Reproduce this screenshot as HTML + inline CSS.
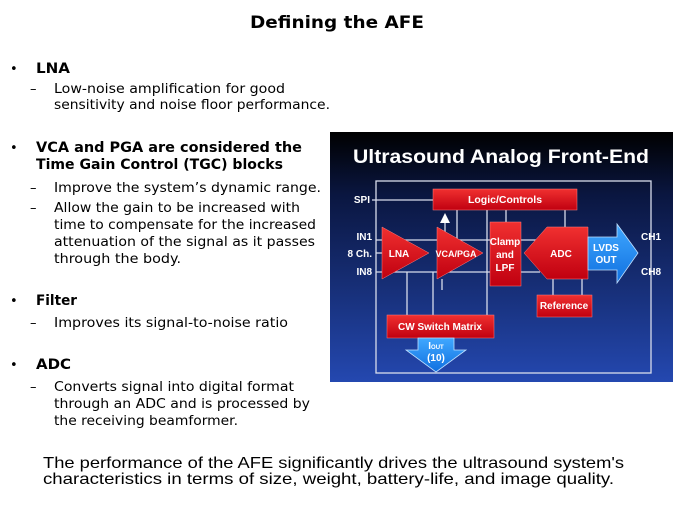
<!DOCTYPE html>
<html><head><meta charset="utf-8"><style>html,body{margin:0;padding:0;background:#fff}svg{display:block}</style></head><body>
<svg width="674" height="506" viewBox="0 0 674 506" xmlns="http://www.w3.org/2000/svg">
<defs>
<linearGradient id="bg" x1="0" y1="0" x2="0" y2="1"><stop offset="0" stop-color="#000"/><stop offset="0.25" stop-color="#0a1640"/><stop offset="1" stop-color="#2448b0"/></linearGradient>
<linearGradient id="rd" x1="0" y1="0" x2="0" y2="1"><stop offset="0" stop-color="#f03030"/><stop offset="1" stop-color="#c00010"/></linearGradient>
<linearGradient id="bl" x1="0" y1="0" x2="0" y2="1"><stop offset="0" stop-color="#40a8ff"/><stop offset="1" stop-color="#1070e0"/></linearGradient>
</defs>
<g font-family="DejaVu Sans, Liberation Sans, sans-serif" fill="#000">
<text x="337" y="28" text-anchor="middle" font-weight="bold" font-size="17" textLength="174" lengthAdjust="spacingAndGlyphs">Defining the AFE</text>
<g font-size="13">
<text x="10" y="73">•</text><text x="10" y="152">•</text><text x="10" y="305">•</text><text x="10" y="369">•</text>
<text x="30" y="93">–</text><text x="30" y="192">–</text><text x="30" y="212">–</text><text x="30" y="327">–</text><text x="30" y="391">–</text>
<text x="36" y="73" font-weight="bold" font-size="14" textLength="34" lengthAdjust="spacingAndGlyphs">LNA</text>
<text x="54" y="93" textLength="231" lengthAdjust="spacingAndGlyphs">Low-noise amplification  for good</text>
<text x="54" y="109" textLength="276" lengthAdjust="spacingAndGlyphs">sensitivity and noise floor performance.</text>
<text x="36" y="152" font-weight="bold" font-size="14" textLength="266" lengthAdjust="spacingAndGlyphs">VCA and PGA are considered  the</text>
<text x="36" y="169" font-weight="bold" font-size="14" textLength="247" lengthAdjust="spacingAndGlyphs">Time Gain Control (TGC) blocks</text>
<text x="54" y="192" textLength="267" lengthAdjust="spacingAndGlyphs">Improve the system’s dynamic range.</text>
<text x="54" y="212" textLength="246" lengthAdjust="spacingAndGlyphs">Allow the gain to be increased with</text>
<text x="54" y="229" textLength="262" lengthAdjust="spacingAndGlyphs">time to compensate for the increased</text>
<text x="54" y="246" textLength="261" lengthAdjust="spacingAndGlyphs">attenuation of the signal as it passes</text>
<text x="54" y="263" textLength="127" lengthAdjust="spacingAndGlyphs">through the body.</text>
<text x="36" y="305" font-weight="bold" font-size="14" textLength="41" lengthAdjust="spacingAndGlyphs">Filter</text>
<text x="54" y="327" textLength="234" lengthAdjust="spacingAndGlyphs">Improves its signal-to-noise ratio</text>
<text x="36" y="369" font-weight="bold" font-size="14" textLength="35" lengthAdjust="spacingAndGlyphs">ADC</text>
<text x="54" y="391" textLength="240" lengthAdjust="spacingAndGlyphs">Converts signal into digital format</text>
<text x="54" y="408" textLength="256" lengthAdjust="spacingAndGlyphs">through an ADC and is processed by</text>
<text x="54" y="425" textLength="184" lengthAdjust="spacingAndGlyphs">the receiving  beamformer.</text>
</g>
<g font-family="Liberation Sans, sans-serif" font-size="16">
<text x="43" y="468" textLength="581" lengthAdjust="spacingAndGlyphs">The performance of the AFE significantly drives the ultrasound system's</text>
<text x="43" y="484" textLength="571" lengthAdjust="spacingAndGlyphs">characteristics in terms of size, weight, battery-life, and image quality.</text>
</g>
</g>
<rect x="330" y="132" width="343" height="250" fill="url(#bg)"/>
<text x="501" y="163" text-anchor="middle" fill="#fff" font-family="Liberation Sans, sans-serif" font-weight="bold" font-size="19" textLength="296" lengthAdjust="spacingAndGlyphs">Ultrasound Analog Front-End</text>
<g stroke="#d8dcec" stroke-width="1.3" fill="none">
<rect x="376" y="181" width="275" height="192"/>
<line x1="372" y1="200" x2="433" y2="200"/>
<line x1="376" y1="240" x2="540" y2="240"/><line x1="376" y1="272" x2="540" y2="272"/>
<line x1="376" y1="253" x2="382" y2="253"/>
<line x1="457" y1="210" x2="457" y2="240"/><line x1="487" y1="210" x2="487" y2="315"/>
<line x1="506" y1="210" x2="506" y2="222"/><line x1="565" y1="210" x2="565" y2="227"/>
<line x1="407" y1="272" x2="407" y2="315"/><line x1="433" y1="272" x2="433" y2="315"/>
<line x1="445" y1="240" x2="445" y2="220"/><line x1="442" y1="279" x2="442" y2="290"/>
<line x1="553" y1="279" x2="553" y2="295"/><line x1="582" y1="279" x2="582" y2="295"/>
<line x1="588" y1="253" x2="600" y2="253"/>
</g>
<polygon points="445,213 440,223 450,223" fill="#fff"/>
<g fill="url(#rd)" stroke="#ff8080" stroke-width="0.5">
<rect x="433" y="189" width="144" height="21"/>
<polygon points="382,227 429,253 382,279"/>
<polygon points="437,227 483,253 437,279"/>
<rect x="490" y="222" width="31" height="64"/>
<polygon points="547,227 588,227 588,279 547,279 524,253"/>
<rect x="537" y="295" width="55" height="22"/>
<rect x="387" y="315" width="107" height="23"/>
</g>
<polygon points="588,237 617,237 617,224 638,253 617,283 617,270 588,270" fill="url(#bl)" stroke="#bfe0ff" stroke-width="0.8"/>
<polygon points="418,338 454,338 454,350 466,350 436,372 406,350 418,350" fill="url(#bl)" stroke="#bfe0ff" stroke-width="0.8"/>
<g fill="#fff" font-family="Liberation Sans, sans-serif" font-weight="bold" font-size="10">
<text x="505" y="203" text-anchor="middle" font-size="10.5">Logic/Controls</text>
<text x="399" y="257" text-anchor="middle">LNA</text>
<text x="456" y="257" text-anchor="middle" font-size="9">VCA/PGA</text>
<text x="505" y="245" text-anchor="middle">Clamp</text>
<text x="505" y="258" text-anchor="middle">and</text>
<text x="505" y="271" text-anchor="middle">LPF</text>
<text x="561" y="257" text-anchor="middle">ADC</text>
<text x="606" y="251" text-anchor="middle">LVDS</text>
<text x="606" y="263" text-anchor="middle">OUT</text>
<text x="564" y="309" text-anchor="middle">Reference</text>
<text x="440" y="330" text-anchor="middle">CW Switch Matrix</text>
<text x="436" y="349" text-anchor="middle">I<tspan font-size="6">OUT</tspan></text>
<text x="436" y="361" text-anchor="middle">(10)</text>
<text x="370" y="203" text-anchor="end">SPI</text>
<text x="372" y="240" text-anchor="end">IN1</text>
<text x="372" y="257" text-anchor="end">8 Ch.</text>
<text x="372" y="275" text-anchor="end">IN8</text>
<text x="641" y="240">CH1</text>
<text x="641" y="275">CH8</text>
</g>
</svg>
</body></html>
